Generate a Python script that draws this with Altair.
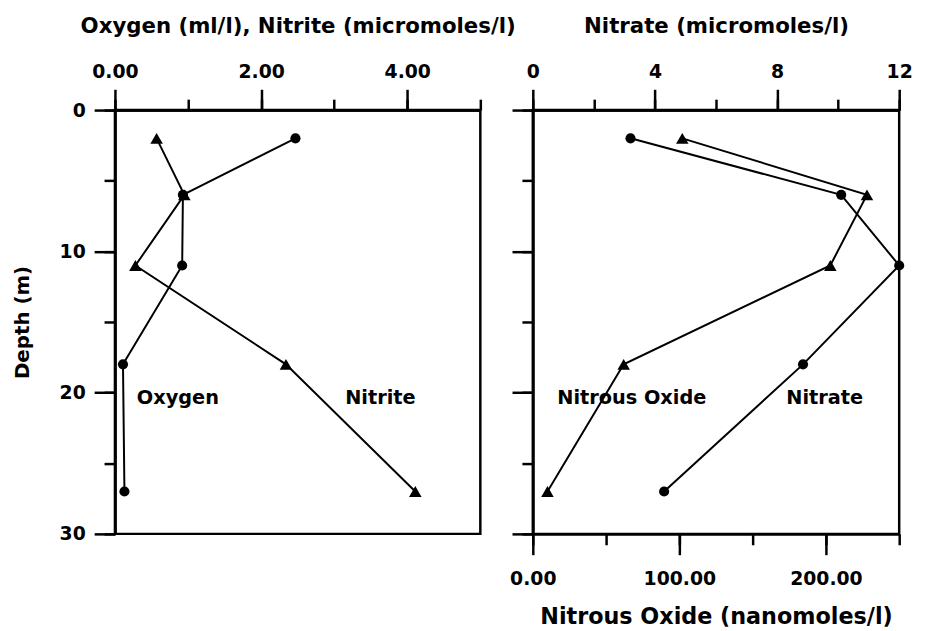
import altair as alt
import pandas as pd

# ---- data ----
depth = [2, 6, 11, 18, 27]
oxygen = [2.47, 0.93, 0.92, 0.11, 0.13]
nitrite = [0.57, 0.95, 0.28, 2.34, 4.11]
nitrate = [3.2, 10.1, 12.0, 8.85, 4.3]
nitrous_oxide = [102, 228, 203, 62, 10]

left_minor = [0, 1, 2, 3, 4, 5]
left_major = [0, 2, 4]
no3_minor = [0, 2, 4, 6, 8, 10, 12]
no3_major = [0, 4, 8, 12]
n2o_minor = [0, 50, 100, 150, 200, 250]
n2o_major = [0, 100, 200]
depth_minor = [0, 5, 10, 15, 20, 25, 30]
depth_major = [0, 10, 20, 30]

left_labels = ["Oxygen", "Nitrite"]
left_label_x = [0.3, 3.15]
right_labels = ["Nitrous Oxide", "Nitrate"]
right_label_x = [0.8, 8.3]
label_depth = 20.4

FONT = "DejaVu Sans"
MAJ = 21
MIN = 11

left_df = pd.DataFrame({
    "depth": depth * 2,
    "value": oxygen + nitrite,
    "series": ["Oxygen"] * len(depth) + ["Nitrite"] * len(depth),
})
no3_df = pd.DataFrame({"depth": depth, "value": nitrate})
n2o_df = pd.DataFrame({"depth": depth, "value": nitrous_oxide})
left_lab_df = pd.DataFrame({"text": left_labels, "x": left_label_x, "depth": [label_depth] * 2})
right_lab_df = pd.DataFrame({"text": right_labels, "x": right_label_x, "depth": [label_depth] * 2})

yscale = alt.Scale(domain=[0, 30], reverse=True, nice=False)
xs_left = alt.Scale(domain=[0, 5], nice=False)
xs_no3 = alt.Scale(domain=[0, 12], nice=False)
xs_n2o = alt.Scale(domain=[0, 250], nice=False)


def minor_axis(orient, values):
    return alt.Axis(orient=orient, values=values, tickSize=MIN, labels=False,
                    title=None, grid=False)


def major_axis(orient, values, fmt=None, title=None, labels=True, **kw):
    args = dict(orient=orient, values=values, tickSize=MAJ, labels=labels,
                grid=False, labelFlush=False, labelOverlap=False)
    if fmt is not None:
        args["format"] = fmt
    args["title"] = title
    args.update(kw)
    return alt.Axis(**args)


CIRC = 105
TRI = 160

# ---------------- left panel ----------------
lbase = alt.Chart(left_df)
l_lines = lbase.mark_line(color="black", strokeWidth=2).encode(
    x=alt.X("value:Q", scale=xs_left, axis=minor_axis("top", left_minor)),
    y=alt.Y("depth:Q", scale=yscale, axis=minor_axis("left", depth_minor)),
    detail="series:N",
    order="depth:Q",
)
l_circ = lbase.transform_filter(alt.datum.series == "Oxygen").mark_point(
    shape="circle", filled=True, size=CIRC, opacity=1, color="black"
).encode(
    x=alt.X("value:Q", scale=xs_left,
            axis=major_axis("top", left_major, ".2f",
                            "Oxygen (ml/l), Nitrite (micromoles/l)",
                            labelPadding=8, titlePadding=25, titleFontSize=21.5)),
    y=alt.Y("depth:Q", scale=yscale,
            axis=major_axis("left", depth_major, "d", "Depth (m)",
                            labelPadding=9, titlePadding=27, titleFontSize=20)),
)
l_tri = lbase.transform_filter(alt.datum.series == "Nitrite").mark_point(
    shape="triangle-up", filled=True, size=TRI, opacity=1, color="black"
).encode(
    x=alt.X("value:Q", scale=xs_left, axis=None),
    y=alt.Y("depth:Q", scale=yscale, axis=None),
)
l_text = alt.Chart(left_lab_df).mark_text(
    align="left", baseline="middle", font=FONT, fontWeight="bold", fontSize=19.5, color="black"
).encode(
    x=alt.X("x:Q", scale=xs_left, axis=None),
    y=alt.Y("depth:Q", scale=yscale, axis=None),
    text="text:N",
)
left = alt.layer(l_lines, l_circ, l_tri, l_text).resolve_axis(
    x="independent", y="independent"
).properties(width=369, height=428)

# ---------------- right panel ----------------
no3_line = alt.Chart(no3_df).mark_line(color="black", strokeWidth=2).encode(
    x=alt.X("value:Q", scale=xs_no3, axis=minor_axis("top", no3_minor)),
    y=alt.Y("depth:Q", scale=yscale, axis=minor_axis("left", depth_minor)),
    order="depth:Q",
)
no3_pts = alt.Chart(no3_df).mark_point(
    shape="circle", filled=True, size=CIRC, opacity=1, color="black"
).encode(
    x=alt.X("value:Q", scale=xs_no3,
            axis=major_axis("top", no3_major, "d", "Nitrate (micromoles/l)",
                            labelPadding=8, titlePadding=25, titleFontSize=21.5)),
    y=alt.Y("depth:Q", scale=yscale,
            axis=major_axis("left", depth_major, labels=False, title=None)),
)
r_text = alt.Chart(right_lab_df).mark_text(
    align="left", baseline="middle", font=FONT, fontWeight="bold", fontSize=19.5, color="black"
).encode(
    x=alt.X("x:Q", scale=xs_no3, axis=None),
    y=alt.Y("depth:Q", scale=yscale, axis=None),
    text="text:N",
)
no3_group = alt.layer(no3_line, no3_pts, r_text).resolve_axis(x="independent", y="independent")

n2o_line = alt.Chart(n2o_df).mark_line(color="black", strokeWidth=2).encode(
    x=alt.X("value:Q", scale=xs_n2o, axis=minor_axis("bottom", n2o_minor)),
    y=alt.Y("depth:Q", scale=yscale, axis=None),
    order="depth:Q",
)
n2o_pts = alt.Chart(n2o_df).mark_point(
    shape="triangle-up", filled=True, size=TRI, opacity=1, color="black"
).encode(
    x=alt.X("value:Q", scale=xs_n2o,
            axis=major_axis("bottom", n2o_major, ".2f", "Nitrous Oxide (nanomoles/l)",
                            labelPadding=15, titlePadding=17, titleFontSize=22.5)),
    y=alt.Y("depth:Q", scale=yscale, axis=None),
)
n2o_group = alt.layer(n2o_line, n2o_pts).resolve_axis(x="independent", y="independent")

right = alt.layer(no3_group, n2o_group).resolve_scale(x="independent").resolve_axis(
    x="independent", y="independent"
).properties(width=370, height=428)

chart = alt.hconcat(left, right, spacing=53, bounds="flush").configure_view(
    stroke="black", strokeWidth=2.5
).configure_axis(
    domainColor="black", domainWidth=2.5, tickColor="black", tickWidth=2.5,
    labelFont=FONT, labelFontWeight="bold", labelFontSize=19, labelColor="black",
    titleFont=FONT, titleFontWeight="bold", titleColor="black",
).properties(
    padding={"left": 3, "top": 3, "right": 5, "bottom": 0},
    background="white",
)

chart.save("out.html", embed_options={"renderer": "svg", "actions": False})
